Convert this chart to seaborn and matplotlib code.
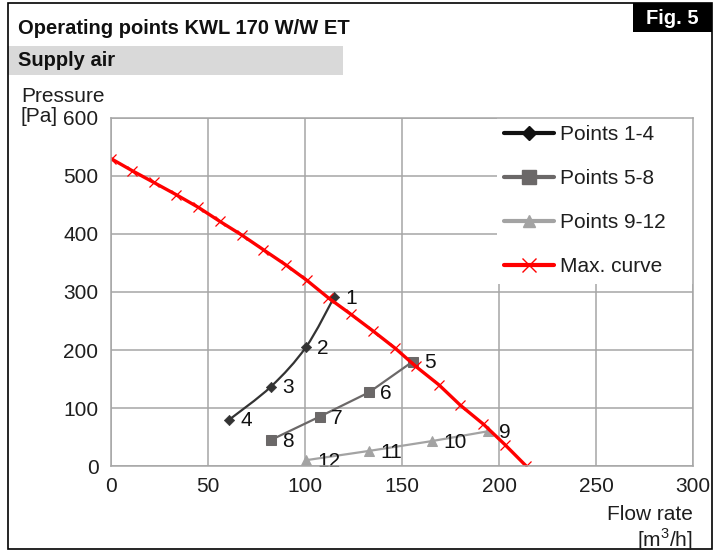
import numpy as np
import pandas as pd
import seaborn as sns
import matplotlib
matplotlib.use("Agg")
import matplotlib.pyplot as plt
from matplotlib.path import Path
from matplotlib.patches import PathPatch, Rectangle
from matplotlib.lines import Line2D

# ---------------- data ----------------
p1_x = [61, 82.5, 100.5, 115]
p1_y = [80, 137, 205, 291]
p1_lab = ["4", "3", "2", "1"]

p2_x = [82.5, 107.5, 133, 155.5]
p2_y = [45, 85, 127, 180]
p2_lab = ["8", "7", "6", "5"]

p3_x = [100.5, 133, 165.5, 194.5]
p3_y = [10, 26, 43, 60]
p3_lab = ["12", "11", "10", "9"]

max_x = [0, 11, 22, 33.5, 45, 56, 67.5, 78.5, 90, 101, 112, 123.5, 135, 146.5,
         157, 169, 180, 192, 203, 214]
max_y = [530, 509, 489, 468, 446, 422, 398, 373, 347, 320, 290, 262, 233, 203,
         172, 140, 105, 72, 37, 0]

series_names = ["Points 1-4", "Points 5-8", "Points 9-12", "Max. curve"]
x_ticks = [0, 50, 100, 150, 200, 250, 300]
y_ticks = [0, 100, 200, 300, 400, 500, 600]

# ---------------- style ----------------
sns.set_style("white")
plt.rcParams["font.family"] = ["Liberation Sans", "DejaVu Sans"]
plt.rcParams["mathtext.fontset"] = "custom"
plt.rcParams["mathtext.rm"] = "Liberation Sans"

W, H = 717, 554
fig = plt.figure(figsize=(W / 100, H / 100), dpi=100)

def fx(px):
    return px / W

def fy(py):
    return 1 - py / H

AX_L, AX_R, AX_T, AX_B = 111, 693, 118, 466
ax = fig.add_axes([fx(AX_L), fy(AX_B), fx(AX_R) - fx(AX_L), fy(AX_T) - fy(AX_B)])

C1, C2, C3, CR = "#333333", "#6b6868", "#a3a3a3", "#ff0000"
GRID = "#a6a6a6"
TXT = "#1e1e1e"

# smoothed line for points 1-4 (Catmull-Rom -> cubic Bezier)
pts = np.column_stack([p1_x, p1_y])
verts = [tuple(pts[0])]
codes = [Path.MOVETO]
n = len(pts)
for i in range(n - 1):
    p0 = pts[i - 1] if i > 0 else pts[i]
    pa = pts[i]
    pb = pts[i + 1]
    p3 = pts[i + 2] if i + 2 < n else pts[i + 1]
    c1 = pa + (pb - p0) / 6.0
    c2 = pb - (p3 - pa) / 6.0
    verts += [tuple(c1), tuple(c2), tuple(pb)]
    codes += [Path.CURVE4] * 3
ax.add_patch(PathPatch(Path(verts, codes), fill=False, edgecolor=C1, lw=1.6, zorder=3))
sns.scatterplot(x=p1_x, y=p1_y, marker="D", s=28, color=C1, edgecolor=C1, ax=ax, zorder=4)

sns.lineplot(x=p2_x, y=p2_y, color=C2, lw=1.6, marker="s", markersize=7,
             markeredgecolor=C2, ax=ax, zorder=3)
sns.lineplot(x=p3_x, y=p3_y, color=C3, lw=1.6, marker="^", markersize=7,
             markeredgecolor=C3, ax=ax, zorder=3)
sns.lineplot(x=max_x, y=max_y, color=CR, lw=2.4, marker="x", markersize=7,
             markeredgewidth=0.9, markeredgecolor=CR, ax=ax, zorder=5)

# point labels
for xs, ys, labs in [(p1_x, p1_y, p1_lab), (p2_x, p2_y, p2_lab), (p3_x, p3_y, p3_lab)]:
    for x, y, t in zip(xs, ys, labs):
        ax.annotate(t, (x, y), xytext=(8, -1), textcoords="offset points",
                    ha="left", va="center", fontsize=15, color="#111111", zorder=6)

ax.set_xlim(0, 300)
ax.set_ylim(0, 600)
ax.set_xticks(x_ticks)
ax.set_yticks(y_ticks)
ax.set_xticklabels([str(v) for v in x_ticks], fontsize=15, color=TXT)
ax.set_yticklabels([str(v) for v in y_ticks], fontsize=15, color=TXT)
ax.grid(True, color=GRID, lw=1.1)
ax.set_axisbelow(True)
for s in ax.spines.values():
    s.set_color(GRID)
    s.set_linewidth(1.1)
    s.set_zorder(12)
ax.tick_params(axis="both", direction="out", length=5, width=1.1, color=GRID,
               pad=3)
ax.tick_params(axis="y", pad=4)
ax.set_xlabel("")
ax.set_ylabel("")

handles = [
    Line2D([], [], color="#111111", lw=3, marker="D", markersize=7),
    Line2D([], [], color=C2, lw=3, marker="s", markersize=10),
    Line2D([], [], color=C3, lw=3, marker="^", markersize=9),
    Line2D([], [], color=CR, lw=3, marker="x", markersize=10, markeredgewidth=1.0),
]
ax_w = AX_R - AX_L
leg_x0 = (497 - AX_L) / ax_w
leg = ax.legend(handles, series_names, loc="upper left",
                bbox_to_anchor=(leg_x0, 0.0, 1.0 - leg_x0, 1.0), mode="expand",
                frameon=True, fontsize=15, handlelength=2.4, handletextpad=0.25,
                labelspacing=1.2, borderpad=0.35, borderaxespad=0.0,
                fancybox=False, framealpha=1.0)
leg.get_frame().set_edgecolor("white")
leg.get_frame().set_linewidth(0)
leg.set_zorder(10)
for t in leg.get_texts():
    t.set_color(TXT)

# axis titles
fig.text(fx(21), fy(96), "Pressure", fontsize=15, ha="left", va="center", color=TXT)
fig.text(fx(20), fy(117), "[Pa]", fontsize=15, ha="left", va="center", color=TXT)
fig.text(fx(693), fy(515), "Flow rate", fontsize=15, ha="right", va="center", color=TXT)
fig.text(fx(693), fy(540), r"[m$^3$/h]", fontsize=15, ha="right", va="center", color=TXT)

# header
fig.patches.append(Rectangle((fx(8), fy(75)), fx(343) - fx(8), fy(46) - fy(75),
                             transform=fig.transFigure, facecolor="#d9d9d9",
                             edgecolor="none", zorder=0))
fig.text(fx(18), fy(61), "Supply air", fontsize=14.5, fontweight="bold",
         ha="left", va="center", color="#111111")
fig.text(fx(18), fy(28), "Operating points KWL 170 W/W ET", fontsize=14.5,
         fontweight="bold", ha="left", va="center", color="#111111")
fig.patches.append(Rectangle((fx(633), fy(32)), fx(712) - fx(633), fy(3) - fy(32),
                             transform=fig.transFigure, facecolor="black",
                             edgecolor="none", zorder=0))
fig.text(fx(672), fy(18), "Fig. 5", fontsize=14.5, fontweight="bold",
         ha="center", va="center", color="white")
# outer frame
fig.patches.append(Rectangle((fx(8), fy(549)), fx(712) - fx(8), fy(3) - fy(549),
                             transform=fig.transFigure, facecolor="none",
                             edgecolor="black", lw=1.2, zorder=0))

fig.savefig("out.png", dpi=100)
